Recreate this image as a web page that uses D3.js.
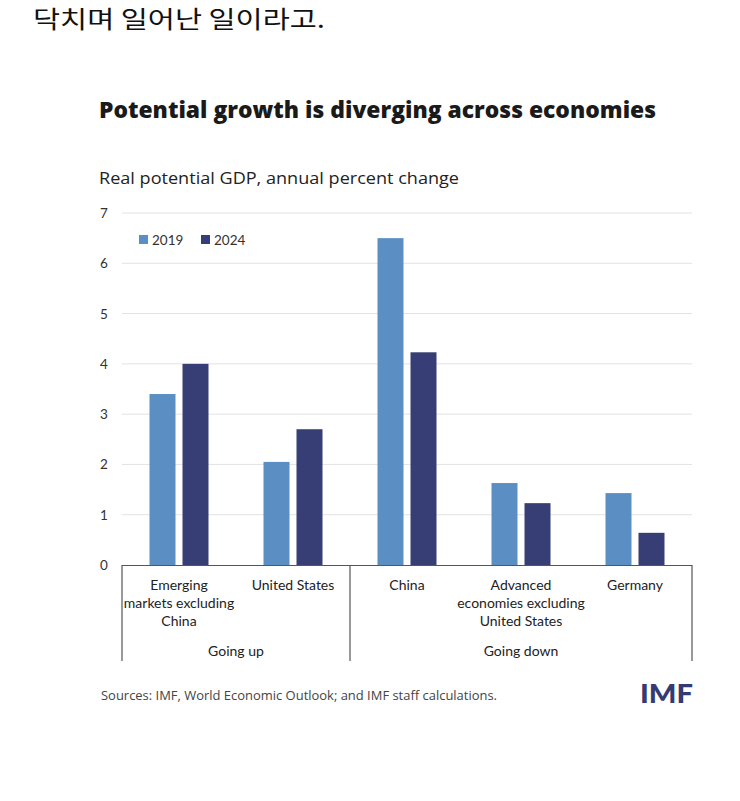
<!DOCTYPE html>
<html><head><meta charset="utf-8">
<script src="https://cdn.jsdelivr.net/npm/d3@7"></script>
<style>body{margin:0;background:#fff;} svg{display:block;}</style>
</head><body>
<script>
const categories = [["Emerging","markets excluding","China"],["United States"],["China"],["Advanced","economies excluding","United States"],["Germany"]];
const catKeys = ["EM","US","CN","AE","DE"];
const series = ["2019","2024"];
const values2019 = [3.4, 2.05, 6.5, 1.63, 1.43];
const values2024 = [4.0, 2.7, 4.23, 1.23, 0.64];
const groups = [{label:"Going up", from:0, to:2},{label:"Going down", from:2, to:5}];
const yTicks = [0,1,2,3,4,5,6,7];
const colors = {"2019":"#5b8fc3","2024":"#373e75"};

const W=740,H=801;
const svg=d3.select("body").append("svg").attr("width",W).attr("height",H);
const font="Lato, 'Open Sans', sans-serif";
const wide="'Open Sans', Lato, sans-serif";

function fit(sel,w){ sel.attr("textLength",w).attr("lengthAdjust","spacingAndGlyphs"); return sel; }

fit(svg.append("text").attr("x",33).attr("y",28).attr("font-family","'Noto Sans CJK KR', sans-serif")
  .attr("font-size",24).attr("fill","#111").text("닥치며 일어난 일이라고."),292);

fit(svg.append("text").attr("x",99).attr("y",118).attr("font-family",wide).attr("font-weight",800)
  .attr("font-size",22).attr("fill","#1a1a1a").text("Potential growth is diverging across economies"),557);
fit(svg.append("text").attr("x",99).attr("y",184).attr("font-family",wide)
  .attr("font-size",17).attr("fill","#222").text("Real potential GDP, annual percent change"),360);

const x=d3.scaleBand().domain(catKeys).range([122,692]);
const y=d3.scaleLinear().domain([0,7]).range([565,213]);
const barW=26, gap=7;

// gridlines
svg.append("g").selectAll("line").data(yTicks.filter(d=>d>0)).join("line")
  .attr("x1",122).attr("x2",692).attr("y1",d=>y(d)).attr("y2",d=>y(d))
  .attr("stroke","#e2e2e2").attr("stroke-width",1);
svg.append("g").selectAll("text").data(yTicks).join("text")
  .attr("x",104).attr("y",d=>y(d)+5).attr("text-anchor","middle")
  .attr("font-family",font).attr("font-size",13.5).attr("fill","#333").text(d=>d);

// bars
const data=catKeys.map((k,i)=>({k,v19:values2019[i],v24:values2024[i]}));
const g=svg.append("g");
data.forEach(d=>{
  const c=x(d.k)+x.bandwidth()/2;
  g.append("rect").attr("x",c-gap/2-barW).attr("width",barW).attr("y",y(d.v19)).attr("height",y(0)-y(d.v19)).attr("fill",colors["2019"]);
  g.append("rect").attr("x",c+gap/2).attr("width",barW).attr("y",y(d.v24)).attr("height",y(0)-y(d.v24)).attr("fill",colors["2024"]);
});

// axis line
svg.append("line").attr("x1",122).attr("x2",692).attr("y1",565.5).attr("y2",565.5).attr("stroke","#555").attr("stroke-width",1.2);
// separators
const seps=[x(catKeys[0]), x(catKeys[2]), x.range()[1]];
svg.append("g").selectAll("line").data(seps).join("line")
  .attr("x1",d=>d).attr("x2",d=>d).attr("y1",565).attr("y2",661)
  .attr("stroke","#555").attr("stroke-width",1.2);

// category labels
categories.forEach((lines,i)=>{
  const c=x(catKeys[i])+x.bandwidth()/2;
  const t=svg.append("text").attr("font-family",font).attr("font-size",14).attr("fill","#222").attr("text-anchor","middle");
  lines.forEach((ln,j)=>t.append("tspan").attr("x",c).attr("y",590+j*18).text(ln));
});
groups.forEach(gr=>{
  const a=x(catKeys[gr.from]), b=gr.to<catKeys.length?x(catKeys[gr.to]):x.range()[1];
  svg.append("text").attr("x",(a+b)/2).attr("y",656).attr("text-anchor","middle")
    .attr("font-family",font).attr("font-size",14).attr("fill","#222").text(gr.label);
});

// legend
const leg=[{s:"2019",x:139},{s:"2024",x:201}];
leg.forEach(l=>{
  svg.append("rect").attr("x",l.x).attr("y",235).attr("width",9).attr("height",9).attr("fill",colors[l.s]);
  svg.append("text").attr("x",l.x+13).attr("y",245).attr("font-family",font).attr("font-size",13.5).attr("fill","#333").text(l.s);
});

fit(svg.append("text").attr("x",101).attr("y",700).attr("font-family",wide).attr("font-size",12.5).attr("fill","#444")
  .text("Sources: IMF, World Economic Outlook; and IMF staff calculations."),396);
fit(svg.append("text").attr("x",640).attr("y",703).attr("font-family",font)
  .attr("font-weight",900).attr("font-size",26).attr("fill","#343b72").text("IMF"),53);
</script>
</body></html>
